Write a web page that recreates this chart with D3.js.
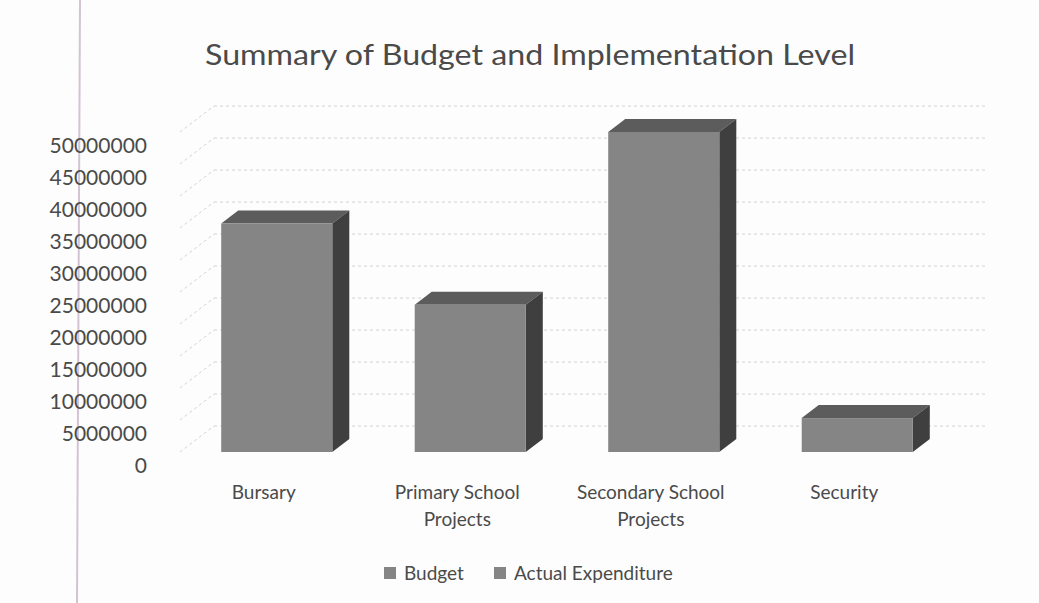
<!DOCTYPE html>
<html>
<head>
<meta charset="utf-8">
<script src="https://cdn.jsdelivr.net/npm/d3@7"></script>
<style>
  body { margin: 0; background: #fdfdfd; }
  text { font-family: Lato, "Open Sans", sans-serif; fill: #4a4a4a; }
</style>
</head>
<body>
<div id="chart"></div>
<script>
// data
const categories = ['Bursary', 'Primary School Projects', 'Secondary School Projects', 'Security'];
const categoryLines = [['Bursary'], ['Primary School', 'Projects'], ['Secondary School', 'Projects'], ['Security']];
const budget = [35700000, 23000000, 50000000, 5300000];
const seriesNames = ['Budget', 'Actual Expenditure'];
const yTicks = [0, 5000000, 10000000, 15000000, 20000000, 25000000, 30000000, 35000000, 40000000, 45000000, 50000000];

const dms = { width: 1039, height: 603 };
// 3d depth of one bar, wall sits twice as deep
const depth = { dx: 17, dy: -13 };

const svg = d3.select('#chart').append('svg')
    .attr('width', dms.width)
    .attr('height', dms.height)

// scan margin line
svg.append('line')
    .attr('x1', 80).attr('y1', 0).attr('x2', 77).attr('y2', dms.height)
    .attr('stroke', '#d3c3d3').attr('stroke-width', 2)

svg.append('text')
    .attr('x', 530).attr('y', 65)
    .attr('text-anchor', 'middle')
    .attr('textLength', 650)
    .attr('lengthAdjust', 'spacingAndGlyphs')
    .style('font-size', '28px')
    .text('Summary of Budget and Implementation Level')

const x = d3.scaleBand()
    .domain(categories)
    .range([180, 954])
    .paddingInner(0.426)
    .paddingOuter(0.213)

const y = d3.scaleLinear()
    .domain([0, 50000000])
    .range([452, 132])

// gridlines: back wall + side wall
const grid = svg.append('g')
    .attr('stroke', '#d2d2d2')
    .attr('stroke-dasharray', '3,3')
    .attr('stroke-width', 1)
grid.selectAll('.back')
    .data(yTicks)
    .join('line')
    .attr('class', 'back')
    .attr('x1', x.range()[0] + 2 * depth.dx)
    .attr('x2', x.range()[1] + 2 * depth.dx)
    .attr('y1', d => y(d) + 2 * depth.dy)
    .attr('y2', d => y(d) + 2 * depth.dy)
grid.selectAll('.side')
    .data(yTicks)
    .join('line')
    .attr('class', 'side')
    .attr('x1', x.range()[0])
    .attr('x2', x.range()[0] + 2 * depth.dx)
    .attr('y1', d => y(d))
    .attr('y2', d => y(d) + 2 * depth.dy)

// y axis labels
const yAxis = svg.append('g')
    .attr('transform', 'translate(150, 14)')
    .call(d3.axisLeft(y).tickValues(yTicks).tickFormat(d3.format('d')).tickSize(0).tickPadding(3))
yAxis.select('.domain').remove()
yAxis.selectAll('text')
    .style('font-size', '21px')
    .style('font-family', 'Lato, sans-serif')
    .attr('fill', '#4a4a4a')

// 3d bars
const bars = svg.append('g').selectAll('g')
    .data(categories)
    .join('g')

const bw = x.bandwidth();
bars.append('path') // top
    .attr('fill', '#5c5c5c')
    .attr('d', (d, i) => {
        const x0 = x(d), yt = y(budget[i]);
        return `M${x0},${yt}L${x0 + depth.dx},${yt + depth.dy}L${x0 + bw + depth.dx},${yt + depth.dy}L${x0 + bw},${yt}Z`;
    })
bars.append('path') // side
    .attr('fill', '#3f3f3f')
    .attr('d', (d, i) => {
        const x1 = x(d) + bw, yt = y(budget[i]), yb = y(0);
        return `M${x1},${yt}L${x1 + depth.dx},${yt + depth.dy}L${x1 + depth.dx},${yb + depth.dy}L${x1},${yb}Z`;
    })
bars.append('rect') // front
    .attr('fill', '#858585')
    .attr('x', d => x(d))
    .attr('y', (d, i) => y(budget[i]))
    .attr('width', bw)
    .attr('height', (d, i) => y(0) - y(budget[i]))

// category labels
const catLabels = svg.append('g').selectAll('text')
    .data(categories)
    .join('text')
    .attr('x', d => x(d) + bw / 2 - 13)
    .attr('y', 499)
    .attr('text-anchor', 'middle')
    .style('font-size', '19px')
catLabels.selectAll('tspan')
    .data((d, i) => categoryLines[i])
    .join('tspan')
    .attr('x', function () { return this.parentNode.getAttribute('x'); })
    .attr('dy', (d, i) => i === 0 ? 0 : 27)
    .text(d => d)

// legend
const legendX = [384, 494];
const legend = svg.append('g').selectAll('g')
    .data(seriesNames)
    .join('g')
    .attr('transform', (d, i) => `translate(${legendX[i]}, 573)`)
legend.append('rect')
    .attr('x', 0).attr('y', -6)
    .attr('width', 12).attr('height', 12)
    .attr('fill', '#858585')
legend.append('text')
    .attr('x', 20).attr('y', 7)
    .style('font-size', '19px')
    .text(d => d)
</script>
</body>
</html>
